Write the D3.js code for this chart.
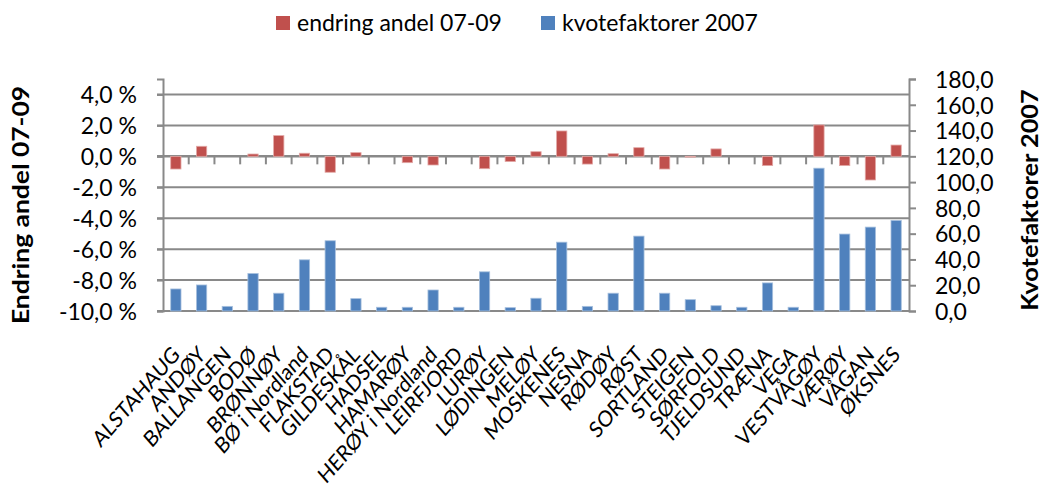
<!DOCTYPE html>
<html>
<head>
<meta charset="utf-8">
<script src="https://cdn.jsdelivr.net/npm/d3@7"></script>
<style>
  body { margin: 0; background: #fff; }
  svg text { font-family: Lato, "Open Sans", sans-serif; fill: #000; }
</style>
</head>
<body>
<svg id="chart" width="1042" height="488"></svg>
<script>
// data
var kommuner = ['ALSTAHAUG', 'ANDØY', 'BALLANGEN', 'BODØ', 'BRØNNØY', 'BØ i Nordland',
  'FLAKSTAD', 'GILDESKÅL', 'HADSEL', 'HAMARØY', 'HERØY i Nordland', 'LEIRFJORD',
  'LURØY', 'LØDINGEN', 'MELØY', 'MOSKENES', 'NESNA', 'RØDØY', 'RØST', 'SORTLAND',
  'STEIGEN', 'SØRFOLD', 'TJELDSUND', 'TRÆNA', 'VEGA', 'VESTVÅGØY', 'VÆRØY', 'VÅGAN', 'ØKSNES'];

// endring andel 07-09 (prosent)
var endring = [-0.82, 0.65, 0.0, 0.15, 1.34, 0.2, -1.03, 0.24, 0.0, -0.41, -0.56, 0.0,
  -0.8, -0.34, 0.3, 1.64, -0.5, 0.17, 0.56, -0.82, -0.05, 0.48, 0.0, -0.6, 0.0,
  2.03, -0.6, -1.53, 0.73];

// kvotefaktorer 2007
var kvote = [17.1, 20.2, 3.6, 29.1, 13.8, 39.7, 54.5, 9.6, 2.9, 2.9, 16.3, 2.9,
  30.4, 2.6, 9.9, 53.4, 3.6, 13.8, 58.1, 13.8, 8.8, 4.1, 2.9, 21.8, 2.9,
  110.8, 59.7, 65.1, 70.3];

var leftTicks = [-10, -8, -6, -4, -2, 0, 2, 4];
var rightTicks = [0, 20, 40, 60, 80, 100, 120, 140, 160, 180];

var serieNavn = ['endring andel 07-09', 'kvotefaktorer 2007'];
var farger = ['#C0504D', '#4F81BD'];

var svg = d3.select('#chart');
var plot = { left: 163, right: 909, top: 79, bottom: 311 };
var gridColor = '#898989';
var stretch = 1.15; // the original picture is a bit taller than it should be

var nb = d3.formatLocale({ decimal: ',', thousands: ' ', grouping: [3], currency: ['', ' kr'], minus: '-' });
var f1 = nb.format('.1f');

var x = d3.scaleBand().domain(kommuner).range([plot.left, plot.right]).padding(0);
var yL = d3.scaleLinear().domain([-10, 5]).range([plot.bottom, plot.top]);
var yR = d3.scaleLinear().domain([0, 180]).range([plot.bottom, plot.top]);
var barW = x.bandwidth() * 0.4;

// gridlines (from the left axis)
svg.append('g').selectAll('line').data(leftTicks).join('line')
  .attr('x1', plot.left - 6).attr('x2', plot.right)
  .attr('y1', function(d) { return yL(d); }).attr('y2', function(d) { return yL(d); })
  .attr('stroke', gridColor).attr('stroke-width', function(d) { return d === 0 ? 2.5 : 2; });

// left axis
var axL = svg.append('g').attr('transform', 'translate(' + plot.left + ',0)')
  .call(d3.axisLeft(yL).tickValues(leftTicks).tickSize(6).tickPadding(20)
    .tickFormat(function(d) { return f1(d) + ' %'; }));
axL.select('.domain').attr('stroke', gridColor).attr('stroke-width', 2);
axL.selectAll('.tick line').attr('stroke', gridColor).attr('stroke-width', 2);
axL.selectAll('.tick text').style('font-size', '23px').attr('dy', '0.36em');

// right axis
var axR = svg.append('g').attr('transform', 'translate(' + plot.right + ',0)')
  .call(d3.axisRight(yR).tickValues(rightTicks).tickSize(7).tickPadding(19)
    .tickFormat(f1));
axR.select('.domain').attr('stroke', gridColor).attr('stroke-width', 2);
axR.selectAll('.tick line').attr('stroke', gridColor).attr('stroke-width', 2);
axR.selectAll('.tick text').style('font-size', '23px').attr('dy', '0.36em');

// category tick marks on the zero line
svg.append('g').selectAll('line').data(kommuner.slice(1)).join('line')
  .attr('x1', function(d) { return x(d); }).attr('x2', function(d) { return x(d); })
  .attr('y1', yL(0)).attr('y2', yL(0) + 8)
  .attr('stroke', gridColor).attr('stroke-width', 2);

// blue bars (right axis)
svg.append('g').selectAll('rect').data(kvote).join('rect')
  .attr('x', function(d, i) { return x(kommuner[i]) + (x.bandwidth() - barW) / 2; })
  .attr('width', barW)
  .attr('y', function(d) { return yR(d); })
  .attr('height', function(d) { return yR(0) - yR(d); })
  .attr('fill', farger[1]).attr('stroke', '#a7c0de').attr('stroke-width', 0.8);

// red bars (left axis)
svg.append('g').selectAll('rect').data(endring).join('rect')
  .attr('x', function(d, i) { return x(kommuner[i]) + (x.bandwidth() - barW) / 2; })
  .attr('width', barW)
  .attr('y', function(d) { return yL(Math.max(0, d)); })
  .attr('height', function(d) { return Math.abs(yL(0) - yL(d)); })
  .attr('fill', farger[0]).attr('stroke', '#e3a9a7').attr('stroke-width', 0.8);

// category labels
svg.append('g').selectAll('text').data(kommuner).join('text')
  .attr('transform', function(d) {
    return 'translate(' + (x(d) + x.bandwidth() / 2 + 5) + ',356) scale(1,' + stretch + ') rotate(-45)';
  })
  .attr('text-anchor', 'end')
  .style('font-size', '19.5px')
  .text(function(d) { return d; });

// axis titles
svg.append('text')
  .attr('transform', 'translate(29,205) scale(1,' + stretch + ') rotate(-90)')
  .attr('text-anchor', 'middle')
  .style('font-size', '23px').style('font-weight', 'bold')
  .text('Endring andel 07-09');

svg.append('text')
  .attr('transform', 'translate(1038,200) scale(1,' + stretch + ') rotate(-90)')
  .attr('text-anchor', 'middle')
  .style('font-size', '22px').style('font-weight', 'bold')
  .text('Kvotefaktorer 2007');

// legend
var legendX = [276, 541];
var leg = svg.append('g').selectAll('g').data(serieNavn).join('g')
  .attr('transform', function(d, i) { return 'translate(' + legendX[i] + ',0)'; });
leg.append('rect').attr('x', 0).attr('y', 16).attr('width', 14).attr('height', 14)
  .attr('fill', function(d, i) { return farger[i]; });
leg.append('text').attr('x', 21).attr('y', 31)
  .style('font-size', '23px')
  .text(function(d) { return d; });
</script>
</body>
</html>
